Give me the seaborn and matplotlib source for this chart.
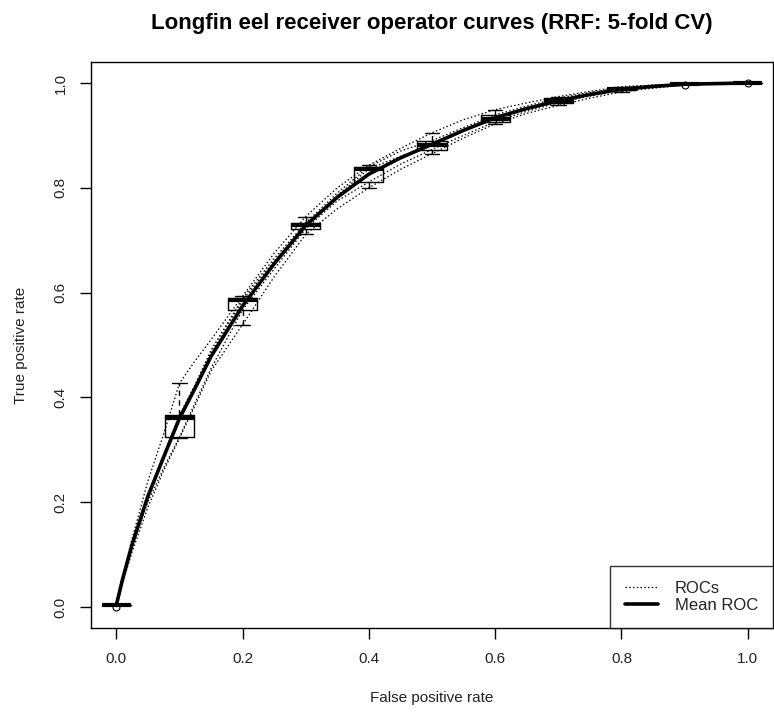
import numpy as np
import pandas as pd
import matplotlib
matplotlib.use("Agg")
import matplotlib.pyplot as plt
from matplotlib.lines import Line2D
import seaborn as sns

# False positive rate grid at which each fold's ROC is read
fpr = [0, 0.01, 0.025, 0.05, 0.075, 0.1, 0.125, 0.15, 0.2, 0.25, 0.3, 0.35, 0.4,
       0.45, 0.5, 0.55, 0.6, 0.65, 0.7, 0.75, 0.8, 0.85, 0.9, 0.95, 1.0]

# True positive rate of each CV fold
fold1 = [0.005, 0.06, 0.13, 0.24, 0.33, 0.427, 0.47, 0.51, 0.593, 0.675, 0.745, 0.80, 0.843,
         0.875, 0.905, 0.93, 0.949, 0.962, 0.974, 0.984, 0.993, 0.996, 0.998, 0.999, 1.0]
fold2 = [0.004, 0.055, 0.125, 0.215, 0.29, 0.366, 0.425, 0.49, 0.589, 0.665, 0.733, 0.79, 0.840,
         0.87, 0.890, 0.915, 0.939, 0.956, 0.971, 0.982, 0.991, 0.995, 0.998, 0.999, 1.0]
fold3 = [0.004, 0.055, 0.12, 0.21, 0.285, 0.360, 0.42, 0.485, 0.585, 0.66, 0.729, 0.785, 0.836,
         0.86, 0.882, 0.908, 0.932, 0.95, 0.966, 0.978, 0.988, 0.994, 0.998, 0.999, 1.0]
fold4 = [0.003, 0.05, 0.115, 0.20, 0.265, 0.324, 0.39, 0.455, 0.567, 0.645, 0.722, 0.775, 0.811,
         0.845, 0.873, 0.90, 0.926, 0.946, 0.962, 0.975, 0.986, 0.992, 0.998, 0.999, 1.0]
fold5 = [0.0, 0.045, 0.105, 0.19, 0.26, 0.322, 0.385, 0.45, 0.539, 0.63, 0.711, 0.76, 0.800,
         0.835, 0.865, 0.895, 0.922, 0.942, 0.957, 0.971, 0.983, 0.99, 0.996, 0.998, 0.9995]

box_fpr = [0.0, 0.1, 0.2, 0.3, 0.4, 0.5, 0.6, 0.7, 0.8, 0.9, 1.0]

title = "Longfin eel receiver operator curves (RRF: 5-fold CV)"
xlabel = "False positive rate"
ylabel = "True positive rate"
ticks = [0.0, 0.2, 0.4, 0.6, 0.8, 1.0]
tick_labels = ["0.0", "0.2", "0.4", "0.6", "0.8", "1.0"]
legend_labels = ["ROCs", "Mean ROC"]

folds = [fold1, fold2, fold3, fold4, fold5]
rows = []
for i, f in enumerate(folds):
    for x, y in zip(fpr, f):
        rows.append({"fold": i + 1, "fpr": x, "tpr": y})
df = pd.DataFrame(rows)
mean_df = df.groupby("fpr", as_index=False)["tpr"].mean()
box_df = df[df["fpr"].round(3).isin([round(b, 3) for b in box_fpr])].copy()
box_df["fpr"] = box_df["fpr"].round(1)

sns.set_theme(style="ticks")
plt.rcParams["font.family"] = ["Liberation Sans", "DejaVu Sans"]

fig = plt.figure(figsize=(7.74, 7.13), dpi=100)
ax = fig.add_axes([91 / 774, 1 - 628 / 713, (773 - 91) / 774, (628 - 62) / 713])

dot = (0, (1.2, 1.8))
sns.lineplot(data=df, x="fpr", y="tpr", units="fold", estimator=None, ax=ax,
             color="black", lw=0.9, linestyle=dot, legend=False)

sns.boxplot(data=box_df, x="fpr", y="tpr", native_scale=True, width=0.46, ax=ax,
            fill=False, color="black", linewidth=1.0, whis=1.5,
            whiskerprops=dict(linestyle=(0, (4, 3)), color="black"),
            capprops=dict(color="black"),
            medianprops=dict(linewidth=3, color="black"),
            boxprops=dict(color="black"),
            flierprops=dict(marker="o", markersize=5, markerfacecolor="none",
                            markeredgecolor="black", markeredgewidth=0.8))

sns.lineplot(data=mean_df, x="fpr", y="tpr", ax=ax, color="black", lw=2.6,
             legend=False)

ax.set_xlim(-0.04, 1.04)
ax.set_ylim(-0.04, 1.04)
ax.set_xticks(ticks)
ax.set_xticklabels(tick_labels)
ax.set_yticks(ticks)
ax.set_yticklabels(tick_labels, rotation=90, va="center")
for s in ax.spines.values():
    s.set_visible(True)
    s.set_color("black")
    s.set_linewidth(1.0)
ax.tick_params(axis="both", direction="out", length=8, width=1, color="black",
               labelsize=11, labelcolor="#222222", pad=9)
ax.set_xlabel(xlabel, fontsize=11, labelpad=18, color="#222222")
ax.set_ylabel(ylabel, fontsize=11, labelpad=18, color="#222222")
ax.set_title(title, fontsize=16, fontweight="bold", pad=24, color="black")

handles = [Line2D([], [], color="black", lw=0.9, linestyle=dot),
           Line2D([], [], color="black", lw=2.6)]
leg = ax.legend(handles, legend_labels, loc="lower right", frameon=True,
                fancybox=False, borderaxespad=0, fontsize=12, handlelength=2.0,
                labelspacing=0.1, borderpad=0.9, handletextpad=1.0)
leg.get_frame().set_edgecolor("black")
leg.get_frame().set_linewidth(1.0)
for t in leg.get_texts():
    t.set_color("#222222")

fig.savefig("out.png", dpi=100)
